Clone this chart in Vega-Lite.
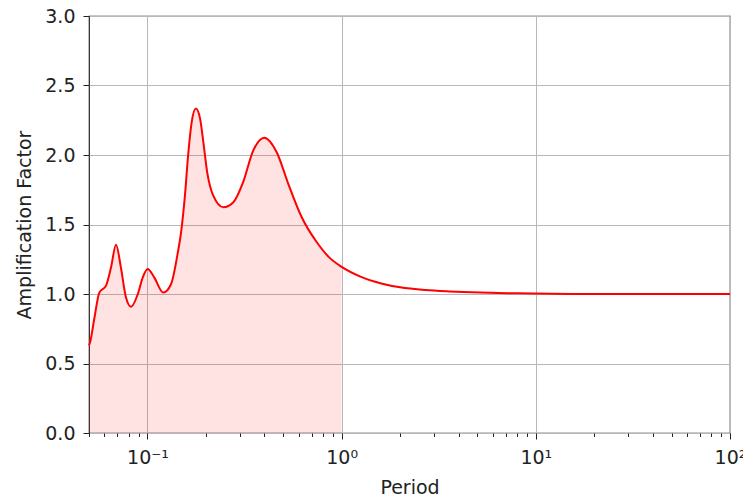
{
  "$schema": "https://vega.github.io/schema/vega-lite/v6.json",
  "width": 641,
  "height": 417,
  "autosize": "none",
  "padding": {"left": 89, "top": 16, "right": 13, "bottom": 66},
  "background": "white",
  "config": {
    "font": "DejaVu Sans",
    "view": {"stroke": "#222", "strokeWidth": 1.2},
    "axis": {
      "labelFont": "DejaVu Sans",
      "titleFont": "DejaVu Sans",
      "labelFontSize": 19,
      "titleFontSize": 19,
      "titleFontWeight": "normal",
      "labelColor": "#222",
      "titleColor": "#222",
      "tickColor": "#222",
      "domain": false,
      "gridColor": "#b8b8b8",
      "gridWidth": 1
    }
  },
  "data": {
    "values": [
      {"T": 0.05, "A": 0.63},
      {"T": 0.0506, "A": 0.651},
      {"T": 0.0532, "A": 0.82},
      {"T": 0.0565, "A": 1.01},
      {"T": 0.0612, "A": 1.06},
      {"T": 0.0649, "A": 1.19},
      {"T": 0.0689, "A": 1.355},
      {"T": 0.073, "A": 1.19},
      {"T": 0.0775, "A": 0.976},
      {"T": 0.0823, "A": 0.908},
      {"T": 0.0892, "A": 1.0},
      {"T": 0.0946, "A": 1.12},
      {"T": 0.1002, "A": 1.18},
      {"T": 0.1083, "A": 1.12},
      {"T": 0.1206, "A": 1.01},
      {"T": 0.1322, "A": 1.07},
      {"T": 0.143, "A": 1.29},
      {"T": 0.149, "A": 1.444},
      {"T": 0.156, "A": 1.709},
      {"T": 0.162, "A": 2.0},
      {"T": 0.169, "A": 2.237},
      {"T": 0.1775, "A": 2.334},
      {"T": 0.1866, "A": 2.262},
      {"T": 0.194, "A": 2.093},
      {"T": 0.203, "A": 1.877},
      {"T": 0.218, "A": 1.709},
      {"T": 0.246, "A": 1.624},
      {"T": 0.277, "A": 1.66},
      {"T": 0.311, "A": 1.805},
      {"T": 0.35, "A": 2.03},
      {"T": 0.4, "A": 2.125},
      {"T": 0.463, "A": 2.02},
      {"T": 0.531, "A": 1.793},
      {"T": 0.623, "A": 1.552},
      {"T": 0.745, "A": 1.372},
      {"T": 0.86, "A": 1.265},
      {"T": 1.0, "A": 1.195},
      {"T": 1.25, "A": 1.125},
      {"T": 1.6, "A": 1.076},
      {"T": 2.0, "A": 1.048},
      {"T": 2.7, "A": 1.028},
      {"T": 3.6, "A": 1.018},
      {"T": 5.2, "A": 1.01},
      {"T": 8, "A": 1.005},
      {"T": 12, "A": 1.002},
      {"T": 20, "A": 1.0},
      {"T": 50, "A": 1.0},
      {"T": 100, "A": 1.0}
    ]
  },
  "encoding": {
    "x": {
      "field": "T",
      "type": "quantitative",
      "title": "Period",
      "scale": {"type": "log", "domain": [0.05, 100], "nice": false},
      "axis": {
        "values": [0.05, 0.06, 0.07, 0.08, 0.09, 0.1, 0.2, 0.3, 0.4, 0.5, 0.6, 0.7, 0.8, 0.9, 1, 2, 3, 4, 5, 6, 7, 8, 9, 10, 20, 30, 40, 50, 60, 70, 80, 90, 100],
        "labelExpr": "datum.value == 0.1 ? '10⁻¹' : datum.value == 1 ? '10⁰' : datum.value == 10 ? '10¹' : datum.value == 100 ? '10²' : ''",
        "labelOverlap": false,
        "labelBound": false,
        "labelFlush": false,
        "tickSize": {"condition": {"test": "indexof([0.1, 1, 10, 100], datum.value) >= 0", "value": 6}, "value": 3.5},
        "gridOpacity": {"condition": {"test": "indexof([0.1, 1, 10, 100], datum.value) >= 0", "value": 1}, "value": 0},
        "labelPadding": 9,
        "titlePadding": 11
      }
    },
    "y": {
      "field": "A",
      "type": "quantitative",
      "title": "Amplification Factor",
      "scale": {"domain": [0, 3], "nice": false, "zero": true},
      "axis": {
        "values": [0, 0.5, 1, 1.5, 2, 2.5, 3],
        "format": ".1f",
        "tickSize": 6,
        "labelPadding": 8,
        "titlePadding": 10
      }
    }
  },
  "layer": [
    {
      "transform": [{"filter": "datum.T <= 1"}],
      "mark": {"type": "area", "color": "red", "opacity": 0.11, "interpolate": "monotone"}
    },
    {
      "mark": {"type": "line", "color": "red", "strokeWidth": 2, "interpolate": "monotone"}
    }
  ]
}
